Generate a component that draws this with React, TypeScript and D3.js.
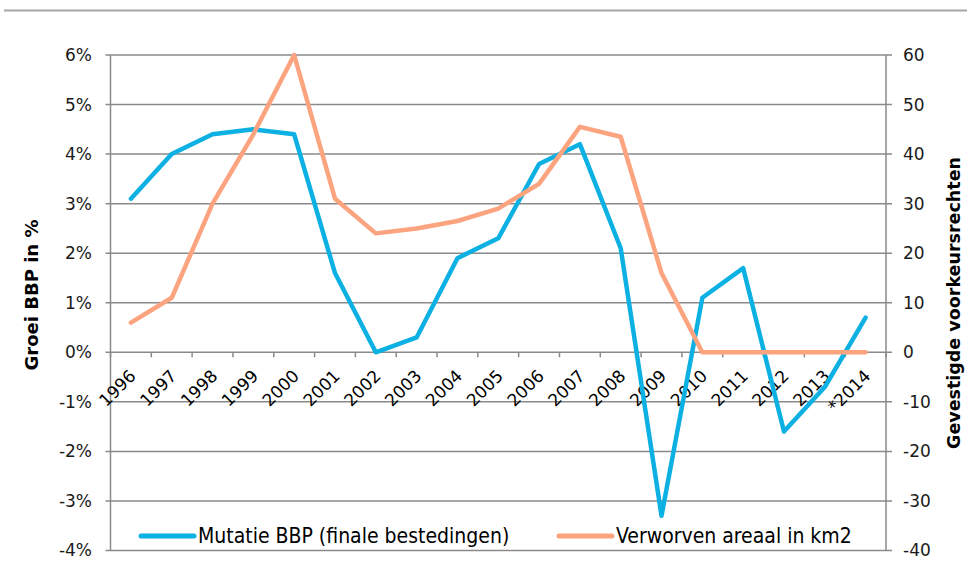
import * as d3 from 'd3';

const years = ['1996', '1997', '1998', '1999', '2000', '2001', '2002', '2003', '2004', '2005',
    '2006', '2007', '2008', '2009', '2010', '2011', '2012', '2013', '*2014'];

// Mutatie BBP (finale bestedingen), % per jaar
const bbp = [3.1, 4.0, 4.4, 4.5, 4.4, 1.6, 0.0, 0.3, 1.9, 2.3, 3.8, 4.2, 2.1, -3.3, 1.1, 1.7, -1.6, -0.7, 0.7];

// Verworven areaal in km2
const areaal = [6, 11, 30, 44, 60, 31, 24, 25, 26.5, 29, 34, 45.5, 43.5, 16, 0, 0, 0, 0, 0];

const leftTicks = [-4, -3, -2, -1, 0, 1, 2, 3, 4, 5, 6];
const rightTicks = [-40, -30, -20, -10, 0, 10, 20, 30, 40, 50, 60];

const seriesNames = ['Mutatie BBP (finale bestedingen)', 'Verworven areaal in km2'];
const blue = '#0cb0e2';
const orange = '#fca37f';
const grid = '#8a8a8a';
const font = 'DejaVu Sans, Verdana, sans-serif';

export default function App() {
    const W = 967;
    const H = 581;
    const left = 110.5;
    const right = 886;

    const x = d3.scaleBand<string>().domain(years).range([left, right]);
    const yL = d3.scaleLinear().domain([-4, 6]).range([550.5, 55]);
    const yR = d3.scaleLinear().domain([-40, 60]).range([550.5, 55]);
    const cx = (i: number) => (x(years[i]) as number) + x.bandwidth() / 2;

    const lineL = d3.line<number>().x((_, i) => cx(i)).y(d => yL(d));
    const lineR = d3.line<number>().x((_, i) => cx(i)).y(d => yR(d));

    const edges = d3.range(years.length + 1).map(i => left + i * x.bandwidth());

    return (
        <div style={{ position: 'absolute', left: 0, top: 0 }}>
            <svg width={W} height={H} style={{ display: 'block', background: '#fff' }}>
                {/* top rule */}
                <line x1={4} x2={W} y1={10.5} y2={10.5} stroke="#a6a6a6" strokeWidth={2} />

                {/* gridlines + outer ticks */}
                {leftTicks.map(t => (
                    <line key={'g' + t} x1={left - 5} x2={right + 6} y1={yL(t)} y2={yL(t)}
                        stroke={grid} strokeWidth={1.5} />
                ))}
                <line x1={left} x2={left} y1={yL(6)} y2={yL(-4)} stroke={grid} strokeWidth={1.5} />
                <line x1={right} x2={right} y1={yL(6)} y2={yL(-4)} stroke={grid} strokeWidth={1.5} />

                {/* category ticks on the zero line */}
                {edges.map((e, i) => (
                    <line key={'t' + i} x1={e} x2={e} y1={yL(0)} y2={yL(0) + 5} stroke={grid} strokeWidth={1.5} />
                ))}

                {/* left tick labels */}
                {leftTicks.map(t => (
                    <text key={'l' + t} x={92} y={yL(t)} dy="0.35em" textAnchor="end"
                        fontFamily={font} fontSize={17} fill="#1a1a1a">{t + '%'}</text>
                ))}
                {/* right tick labels */}
                {rightTicks.map(t => (
                    <text key={'r' + t} x={903} y={yR(t)} dy="0.35em" textAnchor="start"
                        fontFamily={font} fontSize={17} fill="#1a1a1a">{t}</text>
                ))}

                {/* category labels */}
                {years.map((yr, i) => (
                    <text key={yr} transform={`translate(${cx(i) + 6},${377}) rotate(-45)`}
                        textAnchor="end" fontFamily={font} fontSize={17} fill="#000">{yr}</text>
                ))}

                {/* axis titles */}
                <text transform={`translate(38,${295}) rotate(-90)`} textAnchor="middle"
                    fontFamily={font} fontWeight="bold" fontSize={18} fill="#000">Groei BBP in %</text>
                <text transform={`translate(960,${303}) rotate(-90)`} textAnchor="middle"
                    fontFamily={font} fontWeight="bold" fontSize={17.5} fill="#000">Gevestigde voorkeursrechten</text>

                {/* series, in Excel order: second series on top */}
                <path d={lineL(bbp) as string} fill="none" stroke={blue} strokeWidth={4.5}
                    strokeLinejoin="round" strokeLinecap="round" />
                <path d={lineR(areaal) as string} fill="none" stroke={orange} strokeWidth={4.5}
                    strokeLinejoin="round" strokeLinecap="round" />

                {/* legend */}
                <rect x={125} y={520} width={745} height={26} fill="#fff" />
                {[blue, orange].map((c, i) => {
                    const lx = i === 0 ? 141 : 559;
                    return (
                        <g key={c}>
                            <line x1={lx} x2={lx + 53} y1={536} y2={536} stroke={c} strokeWidth={5} strokeLinecap="round" />
                            <text x={lx + 57} y={543} fontFamily="DejaVu Sans Condensed, DejaVu Sans, sans-serif"
                                fontStretch="condensed" fontSize={21} fill="#000">{seriesNames[i]}</text>
                        </g>
                    );
                })}
            </svg>
        </div>
    );
}
